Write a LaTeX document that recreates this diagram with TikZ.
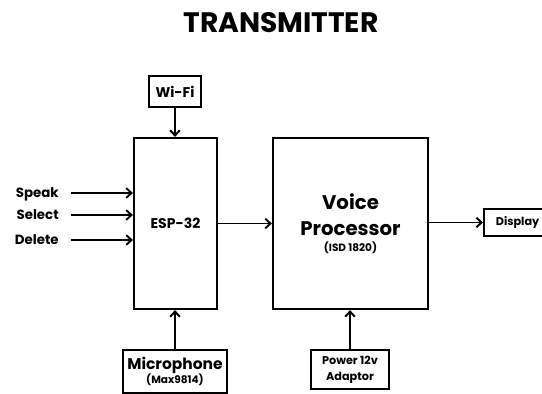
\documentclass[tikz,border=0pt]{standalone}
\usepackage{fontspec}
\setmainfont{Poppins}
\usetikzlibrary{arrows.meta,positioning}

\begin{document}
\begin{tikzpicture}[x=0.025cm,y=-0.025cm,font=\bfseries,
  blk/.style={draw, line width=1.5pt, align=center, inner sep=0pt},
  arr/.style={line width=1.4pt, -{Straight Barb[length=1.3mm,width=2.4mm]}}]
  \useasboundingbox (0,0) rectangle (542,394);
  \fill[white] (0,0) rectangle (542,394);

  \node[font=\bfseries\fontsize{20}{24}\selectfont] (title) at (281,23) {TRANSMITTER};

  % blocks
  \node[blk, minimum width=2.075cm, minimum height=4.275cm, font=\bfseries\fontsize{10}{12}\selectfont] (esp) at (175.5,223.5) {ESP-32};
  \node[blk, minimum width=3.875cm, minimum height=4.275cm, font=\bfseries\fontsize{14}{18.5}\selectfont] (vp) at (350.5,223.5)
    {Voice\\Processor\\[-7.5pt]{\fontsize{7.5}{9}\selectfont (ISD 1820)}};
  \node[blk, minimum width=1.3cm, minimum height=0.775cm, font=\bfseries\fontsize{10}{12}\selectfont] (wifi) at (175,91.5) {Wi-Fi};
  \node[blk, minimum width=1.675cm, minimum height=0.675cm, anchor=west, font=\bfseries\fontsize{8}{10}\selectfont] (disp) at (483,222.5) {Display};
  \node[blk, minimum width=2.6cm, minimum height=1.075cm, font=\bfseries\fontsize{11}{10.5}\selectfont] (mic) at (175,371.5)
    {Microphone\\{\fontsize{7.5}{9}\selectfont (Max9814)}};
  \node[blk, minimum width=1.95cm, minimum height=0.975cm, font=\bfseries\fontsize{8}{11.4}\selectfont] (pwr) at (350,369.5) {Power 12v\\Adaptor};

  % inputs
  \foreach \n/\y/\txt in {speak/193/Speak,select/215/Select,delete/240/Delete} {
    \node[anchor=east, inner sep=0pt, text height=1.5ex, text depth=0.3ex, font=\bfseries\fontsize{9.5}{11}\selectfont] (\n) at (59,\y) {\txt};
    \draw[arr] ([xshift=0.3cm]\n.east) -- (\n -| esp.west);
  }

  \draw[arr] (wifi.south) -- (wifi.south |- esp.north);
  \draw[arr] (esp.east) -- (esp.east -| vp.west);
  \draw[arr] (vp.east |- disp.west) -- (disp.west);
  \draw[arr] (mic.north) -- (mic.north |- esp.south);
  \draw[arr] (pwr.north) -- (pwr.north |- vp.south);
\end{tikzpicture}
\end{document}
